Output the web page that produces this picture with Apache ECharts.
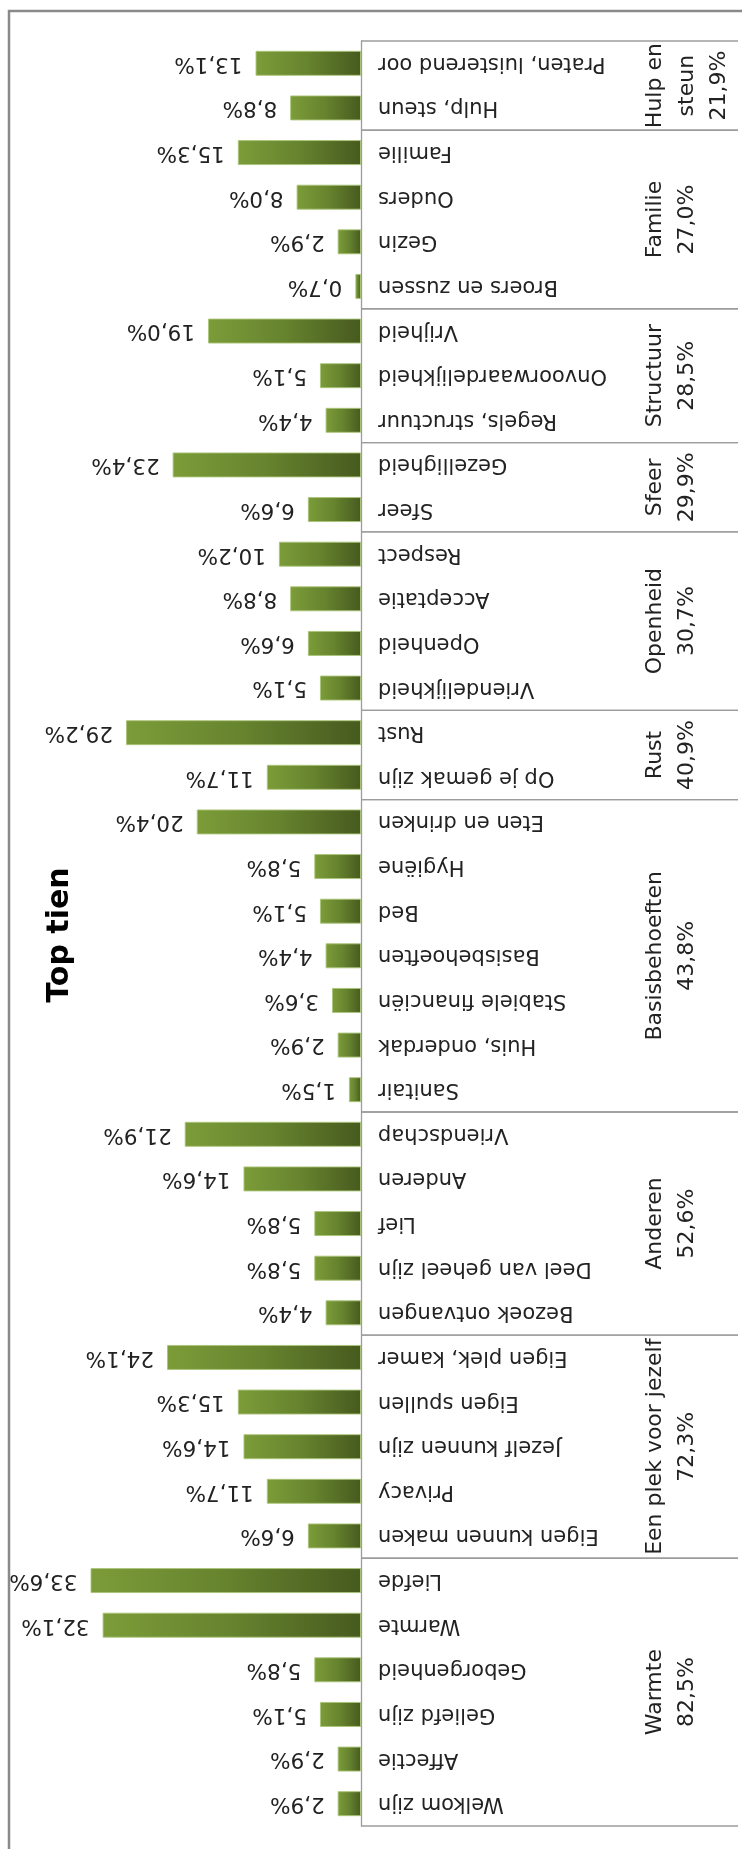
<!DOCTYPE html>
<html>
<head>
<meta charset="utf-8">
<script src="https://cdn.jsdelivr.net/npm/echarts@6/dist/echarts.min.js"></script>
<style>
  html, body { margin: 0; padding: 0; background: #fff; }
  #chart { width: 742px; height: 1849px; }
</style>
</head>
<body>
<div id="chart"></div>
<script>
// Items, top to bottom
const categories = [
  'Praten, luisterend oor', 'Hulp, steun',
  'Familie', 'Ouders', 'Gezin', 'Broers en zussen',
  'Vrijheid', 'Onvoorwaardelijkheid', 'Regels, structuur',
  'Gezelligheid', 'Sfeer',
  'Respect', 'Acceptatie', 'Openheid', 'Vriendelijkheid',
  'Rust', 'Op je gemak zijn',
  'Eten en drinken', 'Hygiëne', 'Bed', 'Basisbehoeften', 'Stabiele financiën', 'Huis, onderdak', 'Sanitair',
  'Vriendschap', 'Anderen', 'Lief', 'Deel van geheel zijn', 'Bezoek ontvangen',
  'Eigen plek, kamer', 'Eigen spullen', 'Jezelf kunnen zijn', 'Privacy', 'Eigen kunnen maken',
  'Liefde', 'Warmte', 'Geborgenheid', 'Geliefd zijn', 'Affectie', 'Welkom zijn'
];

// Share per item (%)
const values = [
  13.1, 8.8,
  15.3, 8.0, 2.9, 0.7,
  19.0, 5.1, 4.4,
  23.4, 6.6,
  10.2, 8.8, 6.6, 5.1,
  29.2, 11.7,
  20.4, 5.8, 5.1, 4.4, 3.6, 2.9, 1.5,
  21.9, 14.6, 5.8, 5.8, 4.4,
  24.1, 15.3, 14.6, 11.7, 6.6,
  33.6, 32.1, 5.8, 5.1, 2.9, 2.9
];

// Themes, their totals (%) and number of items in each
const groupNames = ['Hulp en\nsteun', 'Familie', 'Structuur', 'Sfeer', 'Openheid', 'Rust',
  'Basisbehoeften', 'Anderen', 'Een plek voor jezelf', 'Warmte'];
const groupTotals = [21.9, 27.0, 28.5, 29.9, 30.7, 40.9, 43.8, 52.6, 72.3, 82.5];
const groupSizes = [2, 4, 3, 2, 4, 2, 7, 5, 5, 6];

const fmt = v => v.toFixed(1).replace('.', ',') + '%';

// start/end item index for each theme
const groupData = [];
let start = 0;
groupSizes.forEach((n, i) => {
  groupData.push([0, start, start + n - 1]);
  start += n;
});

const FONT = '"DejaVu Sans", sans-serif';
const LINE = '#9c9c9c';

const chart = echarts.init(document.getElementById('chart'), null, { renderer: 'canvas' });

chart.setOption({
  backgroundColor: '#ffffff',
  animation: false,
  graphic: [
    {
      type: 'rect',
      z: -1,
      shape: { x: 9, y: 11, width: 800, height: 1900 },
      style: { fill: 'none', stroke: '#8a8a8a', lineWidth: 2.5 }
    },
    {
      type: 'text',
      x: 60,
      y: 935,
      rotation: Math.PI / 2,
      style: {
        text: 'Top tien',
        font: 'bold 30px ' + FONT,
        fill: '#000',
        align: 'center',
        verticalAlign: 'middle'
      }
    }
  ],
  grid: { left: 39, right: 381, top: 41, bottom: 23, containLabel: false },
  xAxis: {
    type: 'value',
    inverse: true,
    min: 0,
    max: 40,
    show: false
  },
  yAxis: {
    type: 'category',
    data: categories,
    inverse: true,
    position: 'right',
    axisLine: { onZero: false, lineStyle: { color: LINE, width: 1.3 } },
    axisTick: { show: false },
    axisLabel: {
      rotate: 180,
      margin: 17,
      fontFamily: FONT,
      fontSize: 21,
      color: '#222'
    },
    splitLine: { show: false }
  },
  series: [
    {
      type: 'bar',
      data: values,
      barCategoryGap: '44%',
      itemStyle: {
        color: new echarts.graphic.LinearGradient(0, 0, 1, 0, [
          { offset: 0, color: '#7c9c39' },
          { offset: 0.5, color: '#66832e' },
          { offset: 1, color: '#475a1f' }
        ]),
        borderColor: 'rgba(170,196,120,0.9)',
        borderWidth: 1
      },
      label: {
        show: true,
        position: 'left',
        distance: 13,
        rotate: 180,
        align: 'left',
        verticalAlign: 'middle',
        fontFamily: FONT,
        fontSize: 21.5,
        color: '#222',
        formatter: p => fmt(p.value)
      }
    },
    {
      type: 'custom',
      data: groupData,
      clip: false,
      silent: true,
      renderItem: (params, api) => {
        const s = api.value(1), e = api.value(2);
        const band = api.size([0, 1])[1];
        const pS = api.coord([0, s]);
        const pE = api.coord([0, e]);
        const x0 = pS[0];
        const x1 = x0 + 377;
        const yTop = pS[1] - band / 2;
        const yBot = pE[1] + band / 2;
        const i = params.dataIndex;
        return {
          type: 'group',
          children: [
            { type: 'line', shape: { x1: x0, y1: yTop, x2: x1, y2: yTop },
              style: { stroke: LINE, lineWidth: 1.3 } },
            { type: 'line', shape: { x1: x0, y1: yBot, x2: x1, y2: yBot },
              style: { stroke: LINE, lineWidth: 1.3 } },
            {
              type: 'text',
              x: x0 + 278,
              y: (yTop + yBot) / 2,
              rotation: Math.PI / 2,
              style: {
                text: groupNames[i] + '\n' + fmt(groupTotals[i]),
                font: '22px ' + FONT,
                lineHeight: 32,
                fill: '#222',
                align: 'center',
                verticalAlign: 'top'
              }
            }
          ]
        };
      }
    }
  ]
});
</script>
</body>
</html>
